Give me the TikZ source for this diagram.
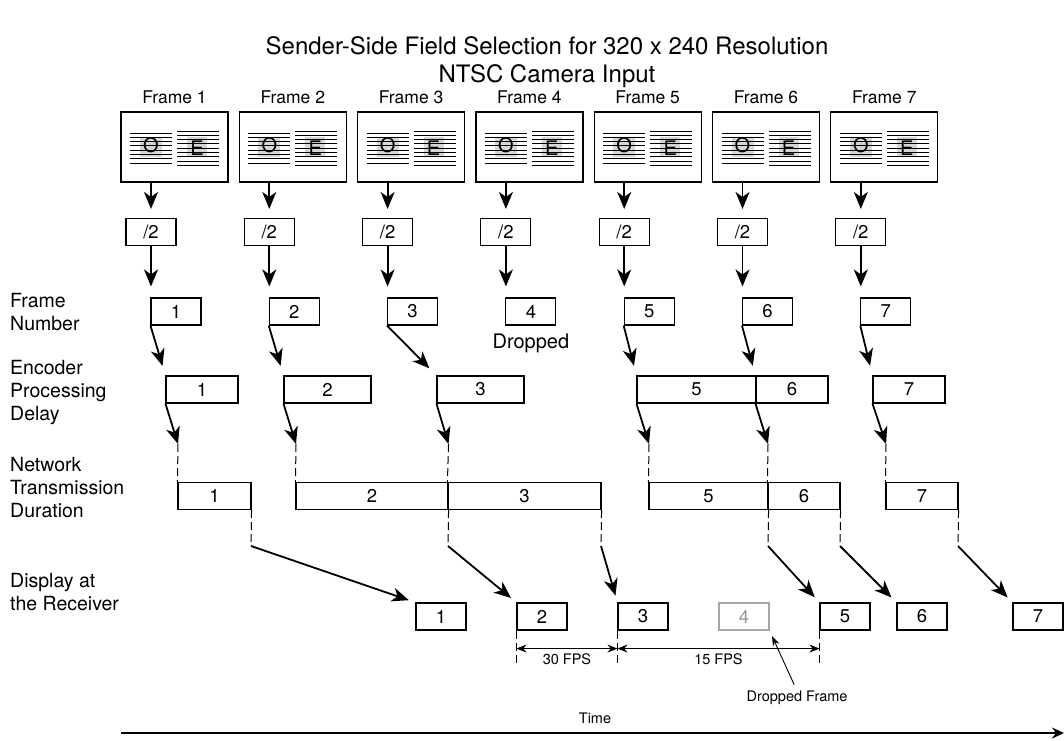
\documentclass[tikz,border=0pt]{standalone}
\usepackage{fontspec}
\setmainfont{TeX Gyre Heros}
\usetikzlibrary{arrows.meta,positioning}

\begin{document}
\begin{tikzpicture}[
  x=1pt, y=-1pt,
  every node/.style={inner sep=0pt},
  title/.style={font=\fontsize{24}{28}\selectfont, align=center},
  side/.style={font=\fontsize{19.5}{23}\selectfont, align=left, anchor=west},
  note/.style={font=\fontsize{20}{23}\selectfont},
  head/.style={font=\fontsize{17.5}{20}\selectfont},
  field/.style={font=\fontsize{20}{22}\selectfont},
  small/.style={font=\fontsize{14.5}{16}\selectfont},
  framebox/.style={draw, line width=1.2pt, minimum width=107pt, minimum height=70pt},
  numbox/.style={draw, line width=1.1pt, minimum width=50pt, minimum height=27pt,
    font=\fontsize{18.5}{20}\selectfont},
  barbox/.style={numbox, minimum width=#1},
  ghost/.style={numbox, draw=black!35, text=black!40},
  arrow/.style={draw, line width=1.8pt, -{Stealth[length=17pt, width=14pt, inset=5pt]}},
  dashline/.style={draw, line width=1pt, dash pattern=on 8pt off 4pt},
  dimarrow/.style={draw, line width=1.2pt,
    {Stealth[length=10pt, width=8pt]}-{Stealth[length=10pt, width=8pt]}},
  thinarrow/.style={draw, line width=0.9pt, -{Stealth[length=10pt, width=7pt]}},
  timearrow/.style={draw, line width=2pt, -{Stealth[length=12pt, width=11pt]}}]

  \useasboundingbox (0,0) rectangle (1064,740);

  % ---- title and row labels ----------------------------------------------
  \node[title] (title) at (547,62)
    {Sender-Side Field Selection for 320 x 240 Resolution\\NTSC Camera Input};
  \node[side] (lfn)  at (10,312) {Frame\\Number};
  \node[side] (lenc) at (10,393) {Encoder\\Processing\\Delay};
  \node[side] (lnet) at (10,488) {Network\\Transmission\\Duration};
  \node[side] (ldis) at (10,592) {Display at\\the Receiver};

  % ---- camera frames, halving, frame numbers -----------------------------
  \foreach \i in {1,...,7} {
    \pgfmathsetmacro\cx{151+118.3*(\i-1)}
    \node[framebox] (f\i) at (\cx+23.5,147) {};
    \node[head, above=7pt of f\i] (lab\i) {Frame \i};
    % odd field
    \fill[black!16] (\cx-11,137) rectangle (\cx+11,157);
    \foreach \k in {0,...,7}
      \draw[line width=0.9pt] (\cx-21,133+4.3*\k) -- (\cx+21,133+4.3*\k);
    \node[field] (odd\i) at (\cx,145) {O};
    % even field
    \fill[black!16] (\cx+36,137) rectangle (\cx+56,157);
    \foreach \k in {0,...,8}
      \draw[line width=0.9pt] (\cx+26,131+4.3*\k) -- (\cx+68,131+4.3*\k);
    \node[field] (even\i) at (\cx+46,148) {E};
    \node[numbox] (d\i) at (\cx,232) {/2};
    \node[numbox] (n\i) at (\cx+25,311.5) {\i};
    \draw[arrow, shorten >=9pt]  (f\i.south -| d\i.north) -- (d\i.north);
    \draw[arrow, shorten >=11pt] (d\i.south) -- (d\i.south |- n\i.north);
  }
  \node[note, below=8pt of n4] (drop) {Dropped};

  % ---- encoder ------------------------------------------------------------
  \foreach \i/\x/\w in {1/202/72, 2/327.5/87, 3/480.5/87, 5/696.5/119, 6/792/72, 7/909/72}
    \node[barbox=\w pt] (e\i) at (\x,389.5) {\i};
  \foreach \i in {1,2,3,5,6,7}
    \draw[arrow, shorten >=10pt] (n\i.south west) -- (e\i.north west);

  % ---- network ------------------------------------------------------------
  \foreach \i/\x/\w in {1/214.5/73, 2/372/152, 3/524.5/153, 5/708.5/119, 6/804/72, 7/922/72}
    \node[barbox=\w pt] (w\i) at (\x,496) {\i};
  \foreach \i/\x in {1/178, 2/296, 3/448.5, 5/649, 6/768, 7/886}
    \coordinate (p\i) at (\x,444);
  \foreach \i in {1,2,3,5,6,7} {
    \draw[arrow] (e\i.south west) -- (p\i);
    \draw[dashline] (p\i) -- (w\i.north west);
  }

  % ---- display --------------------------------------------------------------
  \foreach \i/\x in {1/441, 2/542, 3/643, 5/845, 6/922, 7/1038}
    \node[numbox] (r\i) at (\x,616.5) {\i};
  \node[ghost] (r4) at (744,616.5) {4};
  \foreach \i/\x in {1/251, 2/448, 3/601, 5/768, 6/840, 7/958}
    \coordinate (q\i) at (\x,546);
  \foreach \i in {1,2,3,5,6,7} {
    \draw[dashline] (w\i.south east) -- (q\i);
    \draw[arrow, shorten >=7pt] (q\i) -- (r\i.north west);
  }

  % ---- frame rates ----------------------------------------------------------
  \foreach \i in {2,3,5}
    \draw[dashline] (r\i.south west) -- ([yshift=-35pt]r\i.south west);
  \draw[dimarrow] ([yshift=-18pt]r2.south west)
    -- node[small, below=5pt] (fps30) {30 FPS} ([yshift=-18pt]r3.south west);
  \draw[dimarrow] ([yshift=-18pt]r3.south west)
    -- node[small, below=5pt] (fps15) {15 FPS} ([yshift=-18pt]r5.south west);
  \node[small] (dropped) at (797,698) {Dropped Frame};
  \draw[thinarrow, shorten <=7pt, shorten >=6pt] (dropped.north) -- (r4.south east);

  % ---- time axis ------------------------------------------------------------
  \coordinate (t0) at (121,733);
  \coordinate (t1) at (1064,733);
  \draw[timearrow] (t0) -- (t1);
  \node[small] (time) at (595,718) {Time};
\end{tikzpicture}
\end{document}
